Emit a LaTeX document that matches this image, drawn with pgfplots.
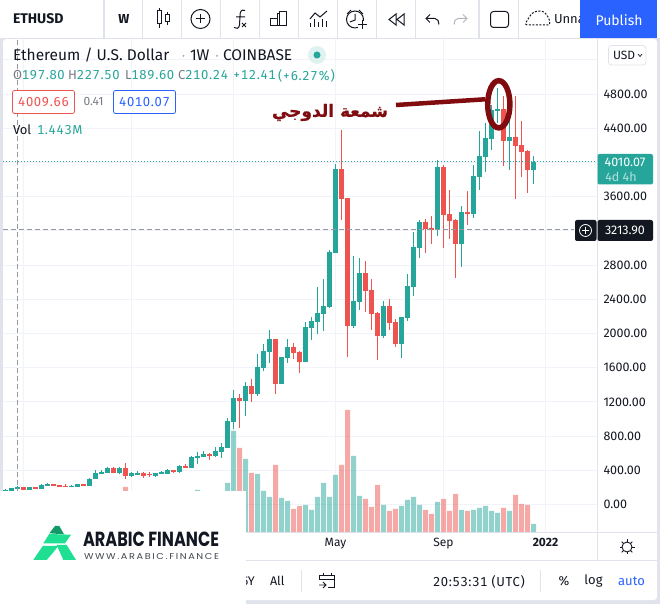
\documentclass[border=0pt]{standalone}
\usepackage{graphicx}
\usepackage{fontspec}
\usepackage{pgfplots}
\usepackage{pgfplotstable}
\pgfplotsset{compat=1.18}
\setmainfont{Fira Sans}
\newfontfamily\wide[LetterSpace=5,Numbers=Monospaced]{Fira Sans}
\newfontfamily\arabicfont[Script=Arabic,BoldFeatures={FakeBold=0.8}]{DejaVu Sans}
\newfontfamily\logofont{Poppins}
\TeXXeTstate=1

\definecolor{up}{HTML}{26A69A}
\definecolor{down}{HTML}{EF5350}
\definecolor{ink}{HTML}{131722}
\definecolor{rulec}{HTML}{E0E3EB}
\definecolor{gridc}{HTML}{F0F3FA}
\definecolor{crossc}{HTML}{9598A1}
\definecolor{greyt}{HTML}{787B86}
\definecolor{bluec}{HTML}{2962FF}
\definecolor{markup}{HTML}{800C10}

% weekly candles, i O H L C
\pgfplotstableread{
i O H L C
0 154 185 150 173
1 157 196 155 192
2 185 216 177 204
4 173 204 170 200
6 181 239 177 228
7 220 255 216 243
11 204 224 200 216
12 208 243 204 239
14 220 310 216 298
15 298 403 294 372
16 360 403 352 384
17 368 442 364 430
19 364 434 352 426
21 337 376 325 364
22 348 387 341 368
25 333 372 325 368
26 360 391 356 376
27 356 415 352 403
29 376 462 372 450
31 430 563 426 551
32 543 617 477 567
33 559 625 551 590
35 567 668 559 625
36 614 719 544 672
37 661 1012 657 977
38 965 1339 883 1246
40 1211 1433 1035 1386
42 1292 1760 1269 1608
43 1597 1877 1561 1795
44 1784 2041 1655 1936
46 1409 1730 1405 1725
47 1714 1936 1655 1842
50 1667 2135 1663 2076
51 2064 2193 1924 2146
52 2134 2544 1994 2239
53 2228 2637 2029 2321
54 2310 2976 2298 2953
55 2941 3982 2941 3924
58 2087 2906 2064 2380
59 2368 2883 2275 2707
63 1970 2380 1947 2321
66 1877 2197 1713 2193
67 2181 2696 2146 2555
68 2544 3187 2438 3011
69 3000 3327 2883 3304
72 3210 4029 3140 3947
76 3047 3491 2778 3421
78 3398 3971 3351 3842
79 3830 4368 3678 4076
80 4064 4462 3889 4287
81 4275 4673 4146 4614
82 4602 4868 4462 4626
84 4251 4550 3912 4298
88 3912 4076 3749 4010.07
}\upcandles

\pgfplotstableread{
i O H L C
3 200 204 170 173
5 200 204 178 181
8 239 243 216 220
9 228 232 205 208
10 220 235 200 204
13 239 243 216 220
18 430 438 368 372
20 426 485 302 337
23 368 376 313 333
24 356 376 325 341
28 399 403 372 380
30 450 469 426 430
34 594 606 520 571
39 1246 1292 895 1211
41 1386 1468 1199 1292
45 1936 1940 1292 1409
48 1842 1889 1702 1772
49 1784 1795 1538 1667
56 3924 4380 3327 3573
57 3585 3590 1725 2087
60 2707 2848 2251 2497
61 2508 2637 2041 2228
62 2240 2251 1690 1970
64 2321 2403 2041 2122
65 2134 2169 1842 1877
70 3304 3339 2941 3222
71 3234 3374 3047 3210
73 3947 3971 2999 3386
74 3398 3678 3105 3316
75 3327 3339 2649 3047
77 3421 3667 3269 3398
83 4626 4778 3959 4251
85 4298 4778 3573 4193
86 4205 4485 3830 4123
87 4134 4146 3643 3912
}\downcandles

% volume in millions
\pgfplotstableread{
i v
32 6.88
37 8
38 16.32
40 11.84
42 9.44
43 6.72
44 5.76
46 5.6
47 5.12
50 4.48
51 3.68
52 5.76
53 8
54 5.76
55 9.28
58 12.32
59 5.92
63 4.48
66 4.32
67 5.28
68 5.76
69 4.48
72 4.96
76 3.68
78 3.68
79 4
80 4.32
81 3.52
82 3.2
84 3.52
88 1.443
}\upvol

\pgfplotstableread{
i v
20 7.36
39 13.6
41 9.6
45 10.88
48 3.84
49 4.32
56 10.88
57 19.68
60 5.44
61 4.16
62 7.68
64 3.52
65 3.84
70 3.68
71 3.04
73 5.44
74 3.52
75 6.24
77 3.52
83 4
85 6.08
86 4.64
87 4.48
}\downvol

\begin{document}
\begin{tikzpicture}
\useasboundingbox (0,0) rectangle (660pt,604pt);
\fill[rulec] (0,0) rectangle (660pt,604pt);
\fill[white] (0,566pt) rectangle (660pt,604pt);
\fill[white,rounded corners=3pt] (3pt,4pt) rectangle (657pt,565pt);

\begin{axis}[
  at={(3pt,71pt)},
  scale only axis,
  width=594pt, height=494pt,
  xmin=-0.4167, xmax=98.583,
  ymin=-333.3, ymax=5444.4,
  axis line style={draw=none},
  tick style={draw=none},
  grid=major,
  major grid style={color=gridc,line width=1pt},
  xtick={3,21,38,55,73,90},
  xticklabels={,,,May,Sep,\textbf{2022}},
  x tick label style={font=\fontsize{12}{14}\selectfont,text=ink,yshift=-2pt},
  ytick={0,400,...,5200},
  yticklabel pos=right,
  % 3200, 4000 and 5200 sit under the price badges and the USD button
  yticklabels={0.00,400.00,800.00,1200.00,1600.00,2000.00,2400.00,2800.00,,3600.00,,4400.00,4800.00,},
  y tick label style={font=\fontsize{12.5}{14}\selectfont,text=ink,anchor=west,xshift=3pt},
]
\addplot[draw=none,mark=none,forget plot,error bars/.cd,y dir=plus,y explicit,error mark=none,
  error bar style={line width=1pt,color=up}]
  table[x=i,y=L,y error plus expr=\thisrow{H}-\thisrow{L}] {\upcandles};
\addplot[draw=none,mark=none,forget plot,error bars/.cd,y dir=plus,y explicit,error mark=none,
  error bar style={line width=1pt,color=down}]
  table[x=i,y=L,y error plus expr=\thisrow{H}-\thisrow{L}] {\downcandles};
\addplot[draw=none,mark=none,forget plot,error bars/.cd,y dir=plus,y explicit,error mark=none,
  error bar style={line width=5pt,color=up}]
  table[x=i,y=O,y error plus expr=\thisrow{C}-\thisrow{O}] {\upcandles};
\addplot[draw=none,mark=none,forget plot,error bars/.cd,y dir=plus,y explicit,error mark=none,
  error bar style={line width=5pt,color=down}]
  table[x=i,y=C,y error plus expr=\thisrow{O}-\thisrow{C}] {\downcandles};
% last price and crosshair
\addplot[up,line width=1.2pt,dash pattern=on 1.2pt off 1.8pt] coordinates {(-0.4167,4010.07)(98.583,4010.07)};
\addplot[crossc,line width=1pt,dash pattern=on 5pt off 3pt] coordinates {(-0.4167,3213.9)(94.75,3213.9)};
\addplot[crossc,line width=1pt,dash pattern=on 5pt off 3pt] coordinates {(2,-333.3)(2,5444.4)};
\end{axis}

\begin{axis}[
  at={(3pt,71pt)},
  scale only axis,
  hide axis,
  width=594pt, height=494pt,
  xmin=-0.4167, xmax=98.583,
  ymin=0, ymax=79.04,
  ybar, bar width=5pt, bar shift=0pt,
]
\addplot[draw=none,fill=up,fill opacity=0.5] table[x=i,y=v] {\upvol};
\addplot[draw=none,fill=down,fill opacity=0.5] table[x=i,y=v] {\downvol};
\end{axis}

% everything below is in reference pixels, y down
\begin{scope}[x=1pt,y=-1pt,shift={(0,604pt)},every node/.style={inner sep=0pt,outer sep=0pt}]
% frame lines
\draw[rulec,line width=1pt] (0,38.5)--(660,38.5);
\draw[rulec,line width=1pt] (3,533)--(657,533);
\draw[rulec,line width=1pt] (597.3,39)--(597.3,561);
\draw[rulec,line width=1pt] (246,561)--(657,561);
\foreach \x in {104,142.5,181.5,220.5,259.5,298.5,337.5,376.5,415.5,479,518.5}
  \draw[rulec,line width=1.2pt] (\x,0)--(\x,38);
% toolbar
\node[anchor=west,text=ink,font=\fontsize{14}{15}\selectfont\bfseries] at (13,19) {ETHUSD};
\node[text=ink,font=\fontsize{13}{15}\selectfont\bfseries] at (124,19) {W};
\begin{scope}[ink,line width=1pt]
  \draw (157,11) rectangle (161,24); \draw (159,8)--(159,11) (159,24)--(159,28);
  \draw (165,15) rectangle (169,22); \draw (167,12)--(167,15) (167,22)--(167,25);
  \draw (200.5,19) circle (9.5); \draw (200.5,14.5)--(200.5,23.5) (196,19)--(205,19);
  \draw (245,10.5) .. controls (241,9) and (240,12) .. (240,16)--(239.5,25) .. controls (239,29) and (236,29) .. (234,27.5) (236,17)--(245,17);
  \draw[line width=0.8pt] (242,23)--(246,27) (246,23)--(242,27);
  \draw (270,26) rectangle (277,19) (277,26) rectangle (279,14) (279,26) rectangle (286.5,12);
  \draw (310,19)--(315,13)--(320,17)--(327,11);
  \draw (310,27)--(310,23) (314,27)--(314,19) (318,27)--(318,22) (322,27)--(322,19) (326,27)--(326,21);
  \draw (355,19.5) circle (8.5); \draw (355,14)--(355,20)--(350,22);
  \fill[white] (358,21) rectangle (368,30);
  \draw (362.7,20.5)--(362.7,29.5) (358,25)--(367,25);
  \draw (347,14)--(351,10) (359,10)--(363,14);
  \draw (396,14)--(389,19.5)--(396,25)--cycle (404,14)--(397,19.5)--(404,25)--cycle;
  \draw (430,14.5)--(426,18.5)--(430,22.5) (426,18.5)--(435,18.5) to[out=0,in=90] (439,24.5);
  \draw[rulec!80!black] (463,14.5)--(467,18.5)--(463,22.5) (467,18.5)--(458,18.5) to[out=180,in=90] (454,24.5);
  \draw[rounded corners=3pt] (490.5,11.5) rectangle (508.5,27.5);
  \draw[dash pattern=on 2pt off 1.5pt] (527,25) to[out=180,in=240] (530,16) to[out=60,in=180] (540,11) to[out=0,in=120] (548,17) to[out=-60,in=0] (548,25)--cycle;
\end{scope}
\node[anchor=west,text=ink,font=\fontsize{13}{15}\selectfont] at (554,19) {Unna};
\fill[bluec] (580,0) rectangle (657,38);
\node[text=white,font=\fontsize{14}{16}\selectfont] at (619,20) {Publish};
% legend block
\node[anchor=west,text=ink,font=\fontsize{15.5}{17}\selectfont] at (13,55.5) {Ethereum / U.S. Dollar};
\fill[greyt!70] (183.5,56) circle (1);
\node[anchor=west,text=ink,font=\fontsize{15.5}{17}\selectfont] at (190,55.5) {1W};
\fill[greyt!70] (217,56) circle (1);
\node[anchor=west,text=ink,font=\fontsize{15.5}{17}\selectfont] at (223,55.5) {COINBASE};
\fill[up!15] (317,55) circle (9); \fill[up] (317,55) circle (3.5);
\foreach \px/\k/\v in {13/O/197.80,68/H/227.50,125/L/189.60,178/C/210.24}
  \node[anchor=west,font=\fontsize{13}{15}\selectfont\wide] at (\px,75.5) {\textcolor{greyt}{\k}\textcolor{up}{\v}};
\node[anchor=west,text=up,font=\fontsize{13}{15}\selectfont\wide] at (233,75.5) {+12.41};
\node[anchor=west,text=up,font=\fontsize{13}{15}\selectfont\wide] at (278,75.5) {(+6.27\%)};
\draw[down,line width=0.8pt,rounded corners=2pt,fill=white] (12.5,90.5) rectangle (74.5,113.5);
\node[text=down,font=\fontsize{13}{15}\selectfont\wide] at (43.5,102) {4009.66};
\node[text=greyt,font=\fontsize{12}{15}\selectfont] at (93.5,102) {0.41};
\draw[bluec,line width=0.8pt,rounded corners=2pt,fill=white] (113.5,90.5) rectangle (175.5,113.5);
\node[text=bluec,font=\fontsize{13}{15}\selectfont\wide] at (144.5,102) {4010.07};
\node[anchor=west,text=ink,font=\fontsize{13}{15}\selectfont] at (13,130) {Vol};
\node[anchor=west,text=up,font=\fontsize{13}{15}\selectfont\wide] at (37,130) {1.443M};
% right scale widgets
\draw[rulec,line width=0.8pt,rounded corners=3pt,fill=white] (608.5,45.5) rectangle (646,65);
\node[anchor=west,text=ink,font=\fontsize{12}{14}\selectfont] at (613,55.5) {USD};
\draw[ink,line width=0.7pt] (638,54)--(640,56.5)--(642,54);
\fill[up,rounded corners=2pt] (597.5,154) rectangle (653,184.5);
\node[text=white,font=\fontsize{12.5}{15}\selectfont] at (625,162.5) {4010.07};
\node[text=white!65!up,font=\fontsize{12.5}{15}\selectfont] at (621,176.5) {4d 4h};
\fill[ink,rounded corners=2pt] (597.5,220) rectangle (653,241);
\node[text=white,font=\fontsize{12.5}{15}\selectfont] at (625,230.5) {3213.90};
\fill[ink,rounded corners=2pt] (575,220) rectangle (596.5,241);
\draw[white,line width=0.8pt] (585.5,230.5) circle (6) (585.5,227)--(585.5,234) (582,230.5)--(589,230.5);
% sun icon
\draw[ink,line width=0.9pt] (627,547) circle (5);
\foreach \a in {0,45,...,315} \draw[ink,line width=0.9pt] (627,547)+(\a:5)--+(\a:7.5);
% bottom row
\node[text=ink,font=\fontsize{12.5}{15}\selectfont] at (248.5,581) {5Y};
\node[anchor=west,text=ink,font=\fontsize{12.5}{15}\selectfont] at (270,581) {All};
\draw[rulec,line width=1pt] (301.5,570)--(301.5,592) (540.7,570)--(540.7,592);
\draw[ink,line width=0.9pt] (319,579)--(319,575)--(334.5,575)--(334.5,587)--(328,587) (323,573)--(323,575) (331,573)--(331,575) (319,579)--(334.5,579);
\draw[ink,line width=0.9pt] (319,585)--(326,585) (323,582)--(326,585)--(323,588);
\node[anchor=west,text=ink,font=\fontsize{13}{15}\selectfont\wide] at (433,581.5) {20:53:31 (UTC)};
\node[text=ink,font=\fontsize{13}{15}\selectfont] at (564,581.5) {\%};
\node[text=ink,font=\fontsize{13}{15}\selectfont] at (593.5,581.5) {log};
\node[text=bluec,font=\fontsize{13}{15}\selectfont] at (631.5,581.5) {auto};
% logo panel
\fill[white] (0,491) rectangle (246,604);
\definecolor{lg}{HTML}{1FDF92}
\definecolor{ldk}{HTML}{149A68}
\fill[ldk] (49.3,533.3)--(55,526)--(59.3,526)--(64,534.3)--cycle;
\fill[lg] (43.3,543.3)--(49.3,534)--(71,534.7)--(65,543.3)--cycle;
\fill[lg] (33.3,560)--(42.7,546)--(58.3,546)--(53.3,552.3)--(46.7,560)--cycle;
\fill[lg] (56.7,545)--(66.7,545)--(76,560)--(63.3,560)--cycle;
\node[anchor=west,text=ink] at (83,539) {\resizebox{136pt}{14.5pt}{\logofont\bfseries ARABIC FINANCE}};
\node[anchor=west,text=ink!80] at (84,556.3) {\resizebox{135pt}{6pt}{\logofont W\,W\,W\,.\,A\,R\,A\,B\,I\,C\,.\,F\,I\,N\,A\,N\,C\,E}};
% annotation
\draw[markup,line width=4.5pt] (396,105)--(485,99.3);
\draw[markup,line width=5.5pt] (498.8,104.3) ellipse (11.1 and 23.6);
\node[text=markup,font=\fontsize{17}{20}\selectfont\bfseries] at (330,112.5) {\arabicfont\beginR شمعة الدوجي\endR};
\end{scope}
\end{tikzpicture}
\end{document}
